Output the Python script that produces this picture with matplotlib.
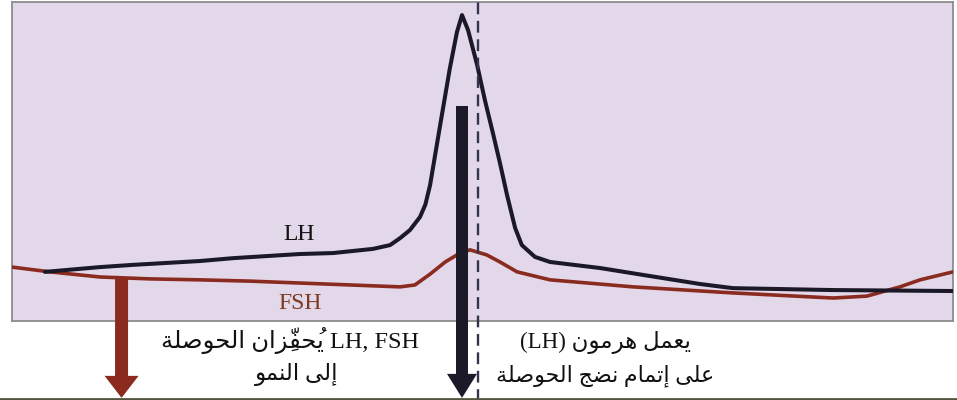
import matplotlib
matplotlib.use("Agg")
import matplotlib.pyplot as plt
from matplotlib.patches import FancyArrow
from matplotlib.lines import Line2D

# ---- hormone levels over the cycle (day, arbitrary level units) ----
lh_days = [0.98, 2.62, 3.60, 5.59, 6.58, 8.57, 9.55, 10.74, 11.25, 11.55, 11.84,
           12.14, 12.30, 12.44, 12.74, 13.03, 13.24, 13.39, 13.57, 13.84, 14.07, 14.31,
           14.52, 14.73, 14.97, 15.17, 15.56, 16.01, 17.50, 18.98, 20.47, 21.45,
           24.43, 28.0]
lh_level = [15.4, 16.9, 17.6, 18.8, 19.7, 21.0, 21.3, 22.6, 23.8, 26.0, 28.5,
            32.6, 36.5, 42.6, 61.4, 79.3, 90.6, 95.9, 91.2, 80.3, 69.3, 58.9,
            49.5, 39.5, 29.2, 23.8, 20.1, 18.5, 16.6, 14.1, 11.6, 10.3,
            9.7, 9.4]

fsh_days = [0.0, 1.13, 2.62, 4.11, 5.59, 7.08, 8.57, 10.06, 11.55, 11.99, 12.44,
            12.89, 13.33, 13.63, 14.13, 14.52, 15.03, 16.01, 18.48, 21.45, 24.43,
            25.44, 26.42, 27.02, 28.0]
fsh_level = [16.9, 15.4, 13.8, 13.2, 12.9, 12.5, 11.9, 11.3, 10.7, 11.3, 14.7,
             18.5, 21.3, 22.3, 20.7, 18.5, 15.4, 12.9, 10.7, 8.8, 7.2,
             7.8, 10.7, 12.9, 15.4]

ovulation_day = 13.87
lh_arrow_day, lh_arrow_top = 13.39, 67.4
fsh_arrow_day, fsh_arrow_top = 3.26, 13.5
arrow_bottom = -24.1

label_lh = "LH"
label_fsh = "FSH"
caption_growth = ("LH, FSH", "يُحفِّزان الحوصلة", "إلى النمو")
caption_maturation = ("(LH)", "يعمل هرمون", "على إتمام نضج الحوصلة")

# ---- minimal Arabic shaping (presentation forms) + right-to-left ordering ----
_DUAL = {'ب': 0xFE8F, 'ت': 0xFE95, 'ث': 0xFE99, 'ج': 0xFE9D, 'ح': 0xFEA1,
         'خ': 0xFEA5, 'س': 0xFEB1, 'ش': 0xFEB5, 'ص': 0xFEB9, 'ض': 0xFEBD,
         'ط': 0xFEC1, 'ظ': 0xFEC5, 'ع': 0xFEC9, 'غ': 0xFECD, 'ف': 0xFED1,
         'ق': 0xFED5, 'ك': 0xFED9, 'ل': 0xFEDD, 'م': 0xFEE1, 'ن': 0xFEE5,
         'ه': 0xFEE9, 'ي': 0xFEF1}
_RIGHT = {'ا': 0xFE8D, 'أ': 0xFE83, 'إ': 0xFE87, 'آ': 0xFE81, 'د': 0xFEA9,
          'ذ': 0xFEAB, 'ر': 0xFEAD, 'ز': 0xFEAF, 'و': 0xFEED, 'ة': 0xFE93,
          'ى': 0xFEEF}


def _is_mark(c):
    return 0x064B <= ord(c) <= 0x065F or ord(c) == 0x0670


def rtl(s):
    chars = list(s)
    n = len(chars)

    def neighbour(i, step):
        j = i + step
        while 0 <= j < n and _is_mark(chars[j]):
            j += step
        return chars[j] if 0 <= j < n else None

    clusters = []  # each item: [marks, base glyph]
    for i, c in enumerate(chars):
        if _is_mark(c):
            if clusters:
                clusters[-1][0] += c
            else:
                clusters.append([c, ""])
            continue
        if c in _DUAL or c in _RIGHT:
            p, q = neighbour(i, -1), neighbour(i, 1)
            jp = p in _DUAL
            if c in _DUAL:
                jn = q in _DUAL or q in _RIGHT
                off = 3 if (jp and jn) else 1 if jp else 2 if jn else 0
                clusters.append(["", chr(_DUAL[c] + off)])
            else:
                clusters.append(["", chr(_RIGHT[c] + (1 if jp else 0))])
        else:
            clusters.append(["", c])
    # zero-advance marks are emitted ahead of their base so they sit over it
    return "".join(m + b for m, b in reversed(clusters))


FONT = ["Liberation Serif", "DejaVu Sans"]
W, H = 957, 400

fig = plt.figure(figsize=(W / 100, H / 100), dpi=100, facecolor="white")
ax = fig.add_axes([12 / W, 1 - 321 / H, 941 / W, 319 / H])
ax.set_facecolor("#e3d7ea")
ax.set_xlim(0, 28)
ax.set_ylim(0, 100)
ax.set_xticks([])
ax.set_yticks([])
for sp in ax.spines.values():
    sp.set_color("#8c8c90")
    sp.set_linewidth(1.3)

ax.plot(fsh_days, fsh_level, color="#8a2b20", lw=2.6, solid_capstyle="round",
        solid_joinstyle="round", zorder=3)
ax.plot(lh_days, lh_level, color="#1b1828", lw=2.9, solid_capstyle="round",
        solid_joinstyle="round", zorder=4)

# ovulation marker running across the whole figure height
ax.plot([ovulation_day, ovulation_day], [arrow_bottom - 1, 101], color="#34344f",
        lw=1.7, ls=(0, (5.0, 2.8)), clip_on=False, zorder=5)

px_day = 941 / 28
px_lvl = 319 / 100
ax.add_patch(FancyArrow(fsh_arrow_day, fsh_arrow_top, 0, arrow_bottom - fsh_arrow_top,
                        width=13 / px_day, head_width=34 / px_day,
                        head_length=22 / px_lvl, length_includes_head=True,
                        color="#8a2b1d", lw=0, clip_on=False, zorder=6))
ax.add_patch(FancyArrow(lh_arrow_day, lh_arrow_top, 0, arrow_bottom - lh_arrow_top,
                        width=12 / px_day, head_width=30 / px_day,
                        head_length=24 / px_lvl, length_includes_head=True,
                        color="#1c1a28", lw=0, clip_on=False, zorder=6))

ax.text(8.54, 27.0, label_lh, family=FONT, fontsize=17, color="#111111",
        ha="center", va="center", zorder=7)
ax.text(8.57, 5.6, label_fsh, family=FONT, fontsize=17, color="#7b3a22",
        ha="center", va="center", zorder=7)

# captions under the panel
latin, ar1, ar2 = caption_growth
fig.text(290 / W, 1 - 341 / H, rtl(ar1) + " " + latin, family=FONT, fontsize=17.5,
         ha="center", va="center", color="#111111")
fig.text(297 / W, 1 - 374 / H, rtl(ar2), family=FONT, fontsize=16.5,
         ha="center", va="center", color="#111111")

latin, ar1, ar2 = caption_maturation
fig.text(605 / W, 1 - 343 / H, latin + " " + rtl(ar1), family=FONT, fontsize=16.5,
         ha="center", va="center", color="#111111")
fig.text(605 / W, 1 - 376 / H, rtl(ar2), family=FONT, fontsize=16,
         ha="center", va="center", color="#111111")

fig.add_artist(Line2D([0, 1], [1 - 398.5 / H, 1 - 398.5 / H], color="#55553f",
                      lw=2.0, transform=fig.transFigure))

fig.savefig("out.png", dpi=100, facecolor="white")
